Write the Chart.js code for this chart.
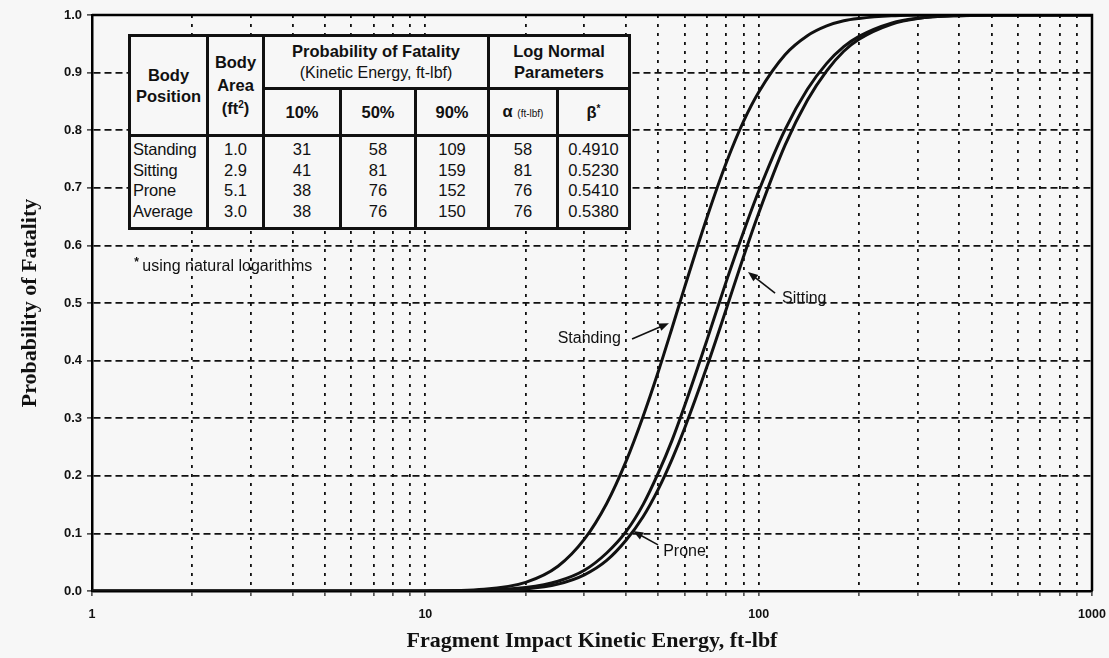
<!DOCTYPE html>
<html>
<head>
<meta charset="utf-8">
<script src="https://cdn.jsdelivr.net/npm/chart.js@4.4.0/dist/chart.umd.min.js"></script>
<style>
  html, body { margin: 0; padding: 0; background: #f7f7f7; }
  #wrap { position: relative; width: 1109px; height: 658px; }
  #chart { position: absolute; left: 0; top: 0; }
  #tbl {
    position: absolute; left: 128px; top: 34px; width: 500px; height: 196px;
    border-collapse: collapse; table-layout: fixed; background: #f7f7f7;
    font-family: "Liberation Sans", Arial, sans-serif; color: #111;
  }
  #tbl td, #tbl th { border: 3px solid #111; padding: 0; text-align: center; font-size: 16.5px; }
  #tbl th { font-weight: bold; line-height: 21px; }
  #tbl th .sub { font-weight: normal; font-size: 16px; }
  #tbl th .small { font-size: 10px; font-weight: normal; }
  #tbl td { vertical-align: top; font-size: 16.5px; line-height: 20.5px; padding-top: 2px; }
  #tbl td.name { text-align: left; padding-left: 2px; letter-spacing: -0.2px; }
  #tbl sup { font-size: 10px; line-height: 0; }
</style>
</head>
<body>
<div id="wrap">
  <canvas id="chart" width="1109" height="658"></canvas>
  <table id="tbl">
    <colgroup>
      <col style="width:78px"><col style="width:56px"><col style="width:77px"><col style="width:75px">
      <col style="width:73px"><col style="width:69px"><col style="width:72px">
    </colgroup>
    <tr style="height:53px">
      <th rowspan="2">Body<br>Position</th>
      <th rowspan="2" style="line-height:23px">Body<br>Area<br>(ft<sup>2</sup>)</th>
      <th colspan="3">Probability of Fatality<br><span class="sub">(Kinetic Energy, ft-lbf)</span></th>
      <th colspan="2">Log Normal<br>Parameters</th>
    </tr>
    <tr style="height:47px">
      <th>10%</th><th>50%</th><th>90%</th>
      <th>α <span class="small">(ft-lbf)</span></th><th>β<sup>*</sup></th>
    </tr>
    <tr id="rows"></tr>
  </table>
</div>
<script>
// energy (ft-lbf) at which the curves were read
const energy = [1, 2, 5, 10, 15, 20, 25, 30, 35, 40, 45, 50, 55, 60, 70, 80, 90, 100, 120, 140, 160, 180, 200, 250, 300, 400, 500, 1000];
const standing = [0, 0, 0, 0.0002, 0.003, 0.015, 0.043, 0.09, 0.152, 0.225, 0.303, 0.381, 0.457, 0.528, 0.649, 0.744, 0.815, 0.866, 0.931, 0.964, 0.981, 0.99, 0.994, 0.9985, 0.9996, 1, 1, 1];
const sitting = [0, 0, 0, 0, 0.0006, 0.0036, 0.012, 0.028, 0.053, 0.088, 0.129, 0.177, 0.229, 0.283, 0.39, 0.49, 0.58, 0.656, 0.774, 0.852, 0.903, 0.937, 0.958, 0.984, 0.994, 0.9989, 0.9997, 1];
const prone = [0, 0, 0, 0.0001, 0.0012, 0.006, 0.017, 0.036, 0.066, 0.103, 0.15, 0.205, 0.262, 0.322, 0.436, 0.538, 0.623, 0.694, 0.801, 0.871, 0.916, 0.945, 0.963, 0.986, 0.9944, 0.9989, 0.9998, 1];

const xTicks = [1, 2, 3, 4, 5, 6, 7, 8, 9, 10, 20, 30, 40, 50, 60, 70, 80, 90, 100, 200, 300, 400, 500, 600, 700, 800, 900, 1000];
const xLabels = [1, 10, 100, 1000];
const yTicks = [0, 0.1, 0.2, 0.3, 0.4, 0.5, 0.6, 0.7, 0.8, 0.9, 1.0];

// table contents
const positions = ["Standing", "Sitting", "Prone", "Average"];
const bodyArea = ["1.0", "2.9", "5.1", "3.0"];
const p10 = [31, 41, 38, 38];
const p50 = [58, 81, 76, 76];
const p90 = [109, 159, 152, 150];
const alpha = [58, 81, 76, 76];
const beta = ["0.4910", "0.5230", "0.5410", "0.5380"];

const rows = document.getElementById("rows");
[positions, bodyArea, p10, p50, p90, alpha, beta].forEach((col, i) => {
  const td = document.createElement("td");
  if (i === 0) td.className = "name";
  td.innerHTML = col.join("<br>");
  rows.appendChild(td);
});

const ink = "#111";
const sans = "Liberation Sans, Arial, sans-serif";
const serif = "Liberation Serif, Times New Roman, serif";

const callouts = [
  { text: "Standing", at: [38.6, 0.439], align: "right", from: [41.7, 0.4375], to: [53.8, 0.465] },
  { text: "Sitting", at: [117.5, 0.507], align: "left", from: [112, 0.517], to: [92.9, 0.554] },
  { text: "Prone", at: [51.7, 0.068], align: "left", from: [49.9, 0.08], to: [42.0, 0.104] },
];

const extras = {
  id: "extras",
  afterDatasetsDraw(chart) {
    const { ctx, chartArea: a, scales: { x, y } } = chart;
    ctx.save();
    // top and right frame
    ctx.strokeStyle = "#000";
    ctx.lineWidth = 2.5;
    ctx.beginPath();
    ctx.moveTo(a.left, a.top);
    ctx.lineTo(a.right, a.top);
    ctx.lineTo(a.right, a.bottom);
    ctx.stroke();

    ctx.fillStyle = ink;
    ctx.strokeStyle = ink;
    ctx.font = "16px " + sans;
    ctx.textBaseline = "middle";
    callouts.forEach(c => {
      ctx.textAlign = c.align;
      ctx.fillText(c.text, x.getPixelForValue(c.at[0]), y.getPixelForValue(c.at[1]));
      const x1 = x.getPixelForValue(c.from[0]), y1 = y.getPixelForValue(c.from[1]);
      const x2 = x.getPixelForValue(c.to[0]), y2 = y.getPixelForValue(c.to[1]);
      const ang = Math.atan2(y2 - y1, x2 - x1);
      ctx.lineWidth = 1.6;
      ctx.beginPath();
      ctx.moveTo(x1, y1);
      ctx.lineTo(x2 - 6 * Math.cos(ang), y2 - 6 * Math.sin(ang));
      ctx.stroke();
      ctx.beginPath();
      ctx.moveTo(x2, y2);
      ctx.lineTo(x2 - 10 * Math.cos(ang) + 4 * Math.sin(ang), y2 - 10 * Math.sin(ang) - 4 * Math.cos(ang));
      ctx.lineTo(x2 - 10 * Math.cos(ang) - 4 * Math.sin(ang), y2 - 10 * Math.sin(ang) + 4 * Math.cos(ang));
      ctx.closePath();
      ctx.fill();
    });

    // footnote
    const fx = x.getPixelForValue(1.34), fy = y.getPixelForValue(0.5625);
    ctx.textAlign = "left";
    ctx.font = "bold 12px " + sans;
    ctx.fillText("*", fx, fy - 4);
    ctx.font = "16px " + sans;
    ctx.fillText("using natural logarithms", fx + 8, fy);
    ctx.restore();
  }
};

const curve = (label, vals) => ({
  label,
  data: energy.map((e, i) => ({ x: e, y: vals[i] })),
  borderColor: ink,
  borderWidth: 3,
  pointRadius: 0,
  cubicInterpolationMode: "monotone",
  fill: false,
});

new Chart(document.getElementById("chart"), {
  type: "line",
  data: {
    datasets: [curve("Standing", standing), curve("Sitting", sitting), curve("Prone", prone)],
  },
  options: {
    responsive: false,
    animation: false,
    layout: { padding: { top: 15, right: 17, bottom: 0, left: 0 } },
    plugins: { legend: { display: false }, tooltip: { enabled: false } },
    scales: {
      x: {
        type: "logarithmic",
        min: 1,
        max: 1000,
        afterBuildTicks: s => { s.ticks = xTicks.map(v => ({ value: v })); },
        afterFit: s => { s.height = 67; s.paddingLeft = 0; s.paddingRight = 0; },
        ticks: {
          autoSkip: false,
          maxRotation: 0,
          padding: 11,
          color: ink,
          font: { family: sans, size: 12.5, weight: "bold" },
          callback: v => (xLabels.includes(v) ? String(v) : ""),
        },
        grid: { color: ink, lineWidth: 1.8, tickLength: 5, tickBorderDash: [], tickColor: ink, tickWidth: 1.2 },
        border: { color: "#000", width: 2.5, dash: [3, 6] },
        title: {
          display: true,
          text: "Fragment Impact Kinetic Energy, ft-lbf",
          color: ink,
          font: { family: serif, size: 22, weight: "bold" },
          padding: { top: 0, bottom: 3 },
        },
      },
      y: {
        min: 0,
        max: 1,
        afterBuildTicks: s => { s.ticks = yTicks.map(v => ({ value: v })); },
        afterFit: s => { s.width = 92; s.paddingTop = 0; s.paddingBottom = 0; },
        ticks: {
          padding: 5,
          color: ink,
          font: { family: sans, size: 13, weight: "bold" },
          callback: v => v.toFixed(1),
        },
        grid: { color: ink, lineWidth: 1.8, tickLength: 5, tickBorderDash: [], tickColor: ink, tickWidth: 1.2 },
        border: { color: "#000", width: 2.5, dash: [7, 4] },
        title: {
          display: true,
          text: "Probability of Fatality",
          color: ink,
          font: { family: serif, size: 22, weight: "bold" },
          padding: { top: 17, bottom: 0 },
        },
      },
    },
  },
  plugins: [extras],
});
</script>
</body>
</html>
